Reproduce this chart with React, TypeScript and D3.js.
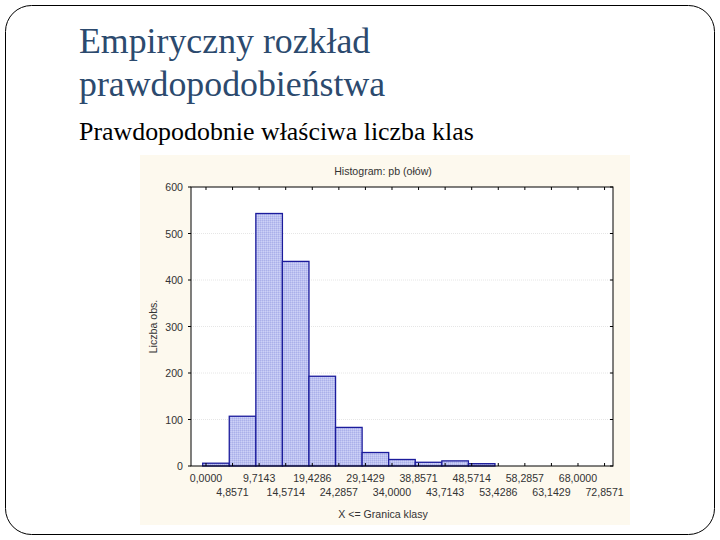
import React from 'react';
import * as d3 from 'd3';

// class upper boundaries (X <= Granica klasy)
const edges = [0, 4.8571, 9.7143, 14.5714, 19.4286, 24.2857, 29.1429, 34.0, 38.8571, 43.7143, 48.5714, 53.4286, 58.2857, 63.1429, 68.0, 72.8571];
const edgeLabels = ['0,0000', '4,8571', '9,7143', '14,5714', '19,4286', '24,2857', '29,1429', '34,0000', '38,8571', '43,7143', '48,5714', '53,4286', '58,2857', '63,1429', '68,0000', '72,8571'];
const counts = [6, 107, 543, 440, 193, 83, 29, 14, 8, 11, 5, 0, 0, 0, 0];
const yTicks = [0, 100, 200, 300, 400, 500, 600];

const W = 720;
const H = 540;

const App = () => {
  const plot = { left: 191, right: 613, top: 187, bottom: 466 };
  const x = d3.scaleLinear().domain([-2.74, 74.4]).range([plot.left, plot.right]);
  const y = d3.scaleLinear().domain([0, 600]).range([plot.bottom, plot.top]);
  const barShift = -3.3;
  const sans = 'Liberation Sans, Arial, sans-serif';
  const serif = 'Liberation Serif, DejaVu Serif, serif';
  const fs = 10.6;

  return (
    <svg width={W} height={H} style={{ position: 'absolute', left: 0, top: 0, background: '#fff' }}>
      <defs>
        <pattern id="hatch" width="2" height="2" patternUnits="userSpaceOnUse">
          <rect width="2" height="2" fill="#bcc1f1" />
          <rect width="1" height="1" fill="#abb0e9" />
          <rect x="1" y="1" width="1" height="1" fill="#cdd1f6" />
        </pattern>
      </defs>
      <rect x={5.5} y={5.5} width={709} height={529} rx={26} fill="#fff" stroke="#000" strokeWidth={1} />

      <g style={{ fontFamily: serif }}>
        <text x={79} y={53} fontSize={35.8} fill="#2c4a6e">Empiryczny rozkład</text>
        <text x={79} y={96} fontSize={35.8} fill="#2c4a6e">prawdopodobieństwa</text>
        <text x={79} y={140} fontSize={25.9} fill="#000">Prawdopodobnie właściwa liczba klas</text>
      </g>

      {/* chart panel */}
      <rect x={140} y={155} width={490} height={370} fill="#fdf9ee" />
      <rect x={plot.left} y={plot.top} width={plot.right - plot.left} height={plot.bottom - plot.top} fill="#fff" />

      <g style={{ fontFamily: sans }} fontSize={fs} fill="#333">
        <text x={(plot.left + plot.right) / 2 - 19} y={175} textAnchor="middle">Histogram: pb (ołów)</text>
      </g>

      {yTicks.slice(1, -1).map(t => (
        <line key={'g' + t} x1={plot.left} x2={plot.right} y1={y(t)} y2={y(t)} stroke="#e6e6e6" strokeWidth={1} strokeDasharray="1,1" />
      ))}

      {counts.map((c, i) => c > 0 && (
        <rect key={'b' + i}
          x={x(edges[i]) + barShift}
          y={y(c)}
          width={x(edges[i + 1]) - x(edges[i])}
          height={y(0) - y(c)}
          fill="url(#hatch)" stroke="#1c1c9c" strokeWidth={1.3} />
      ))}

      {/* frame */}
      <rect x={plot.left} y={plot.top} width={plot.right - plot.left} height={plot.bottom - plot.top} fill="none" stroke="#000" strokeWidth={1} />

      <g style={{ fontFamily: sans }} fontSize={fs} fill="#333">
        {yTicks.map(t => (
          <g key={'y' + t}>
            <line x1={plot.left - 3} x2={plot.left} y1={y(t)} y2={y(t)} stroke="#000" />
            <line x1={plot.right - 3} x2={plot.right} y1={y(t)} y2={y(t)} stroke="#000" />
            <text x={plot.left - 8} y={y(t) + 4} textAnchor="end">{t}</text>
          </g>
        ))}

        {edges.map((e, i) => (
          <g key={'x' + i}>
            <line x1={x(e)} x2={x(e)} y1={plot.top} y2={plot.top + 3} stroke="#000" />
            <line x1={x(e)} x2={x(e)} y1={plot.bottom} y2={plot.bottom - 3} stroke="#000" />
            <text x={x(e)} y={i % 2 === 0 ? 482 : 496} textAnchor="middle">{edgeLabels[i]}</text>
          </g>
        ))}

        <text transform={`translate(157,${(plot.top + plot.bottom) / 2}) rotate(-90)`} textAnchor="middle">Liczba obs.</text>
        <text x={(plot.left + plot.right) / 2 - 19} y={518} textAnchor="middle">X &lt;= Granica klasy</text>
      </g>
    </svg>
  );
};

export default App;
